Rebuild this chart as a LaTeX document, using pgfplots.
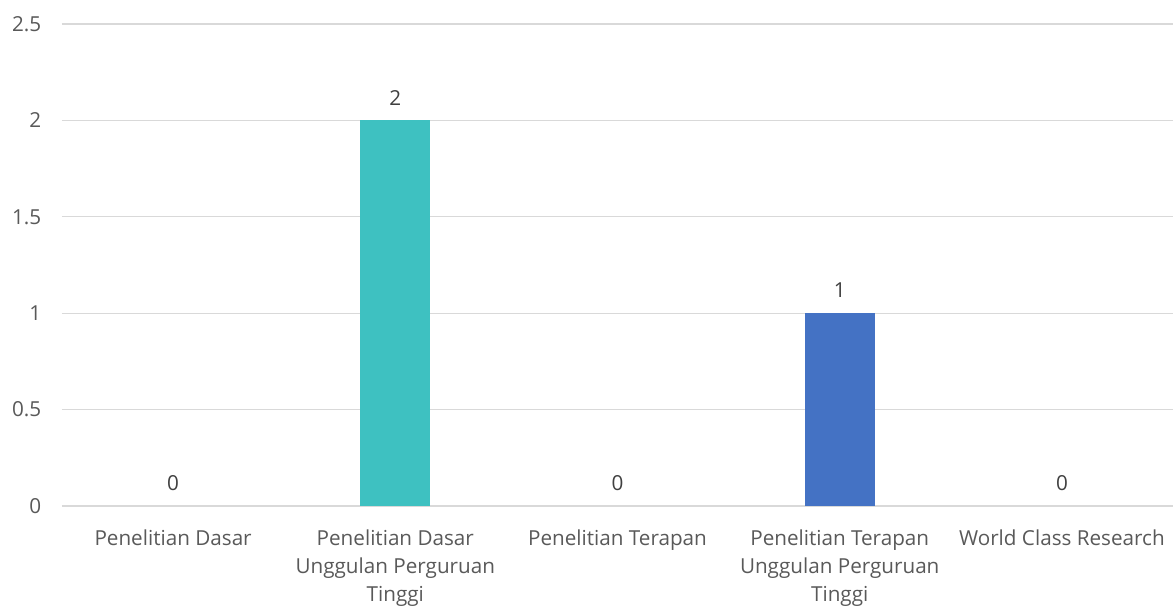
\documentclass[border=0pt]{standalone}
\usepackage{pgfplots}
\pgfplotsset{compat=1.18}
\usepackage{fontspec}
\setmainfont{Open Sans}
\definecolor{gridc}{HTML}{D9D9D9}
\definecolor{tickc}{HTML}{595959}
\definecolor{lblc}{HTML}{404040}
\definecolor{tealbar}{HTML}{3EC1C1}
\definecolor{bluebar}{HTML}{4472C4}
\begin{document}
\begin{tikzpicture}
\begin{axis}[
    scale only axis,
    width=833.25pt, height=361.5pt,
    xmin=-0.5, xmax=4.5,
    ymin=0, ymax=2.5,
    ytick={0,0.5,1,1.5,2,2.5},
    xtick={0,1,2,3,4},
    xticklabels={Penelitian Dasar,
        {Penelitian Dasar\\Unggulan Perguruan\\Tinggi},
        Penelitian Terapan,
        {Penelitian Terapan\\Unggulan Perguruan\\Tinggi},
        World Class Research},
    axis x line*=bottom,
    axis y line*=left,
    x axis line style={gridc, line width=1pt},
    y axis line style={draw=none},
    ymajorgrids,
    grid style={gridc, line width=1pt},
    major tick length=0pt,
    /pgf/number format/assume math mode=true,
    tick label style={font=\fontsize{15.5}{21}\selectfont, text=tickc},
    xticklabel style={align=center, anchor=north, yshift=-14pt},
    yticklabel style={anchor=east, xshift=-12pt},
    ybar, bar width=52.5pt, bar shift=0pt,
    clip=false,
]
\addplot[draw=none, fill=none, nodes near coords,
    every node near coord/.append style={font=\fontsize{15.5}{21}\selectfont, text=lblc, yshift=8pt}]
    coordinates {(0,0) (1,2) (2,0) (3,1) (4,0)};
\addplot[draw=none, fill=tealbar] coordinates {(1,2)};
\addplot[draw=none, fill=bluebar] coordinates {(3,1)};
\end{axis}
\pgfresetboundingbox
\path[use as bounding box] (-46.5pt,-76.5pt) rectangle (833.25pt,379.5pt);
\end{tikzpicture}
\end{document}
